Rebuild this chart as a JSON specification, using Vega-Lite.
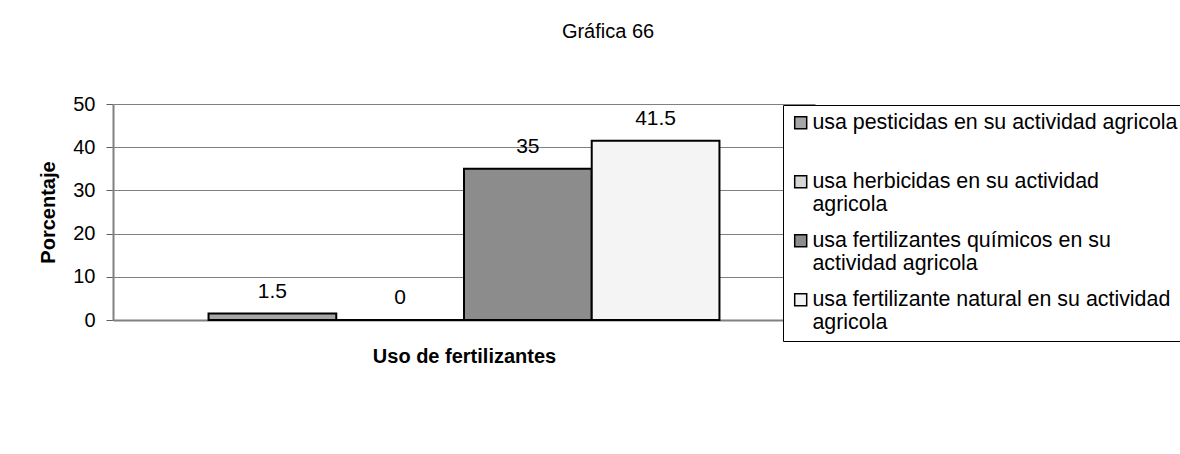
{
  "$schema": "https://vega.github.io/schema/vega-lite/v6.json",
  "width": 702,
  "height": 216,
  "autosize": {"type": "none"},
  "padding": {"left": 113, "top": 104, "right": 365, "bottom": 134},
  "background": "white",
  "title": {
    "text": "Gráfica 66",
    "font": "Liberation Sans",
    "fontSize": 20,
    "fontWeight": "normal",
    "color": "black",
    "anchor": "middle",
    "dx": 144,
    "offset": 52
  },
  "data": {
    "values": [
      {"grupo": "Uso de fertilizantes", "serie": "usa pesticidas en su actividad agricola", "porcentaje": 1.5},
      {"grupo": "Uso de fertilizantes", "serie": "usa herbicidas en su actividad agricola", "porcentaje": 0},
      {"grupo": "Uso de fertilizantes", "serie": "usa fertilizantes químicos en su actividad agricola", "porcentaje": 35},
      {"grupo": "Uso de fertilizantes", "serie": "usa fertilizante natural en su actividad agricola", "porcentaje": 41.5}
    ]
  },
  "encoding": {
    "x": {
      "field": "grupo",
      "type": "nominal",
      "scale": {"paddingInner": 0, "paddingOuter": 0.187},
      "axis": {
        "title": "Uso de fertilizantes",
        "labels": false,
        "ticks": false,
        "domainColor": "#808080",
        "domainWidth": 2,
        "titleFont": "Liberation Sans",
        "titleFontSize": 20,
        "titleFontWeight": "bold",
        "titleColor": "black",
        "titlePadding": 26
      }
    },
    "xOffset": {
      "field": "serie",
      "type": "nominal",
      "sort": null,
      "scale": {
        "domain": [
          "usa pesticidas en su actividad agricola",
          "usa herbicidas en su actividad agricola",
          "usa fertilizantes químicos en su actividad agricola",
          "usa fertilizante natural en su actividad agricola"
        ],
        "paddingInner": 0,
        "paddingOuter": 0
      }
    },
    "y": {
      "field": "porcentaje",
      "type": "quantitative",
      "scale": {"domain": [0, 50], "nice": false},
      "axis": {
        "title": "Porcentaje",
        "values": [0, 10, 20, 30, 40, 50],
        "grid": true,
        "gridColor": "#808080",
        "gridWidth": 1,
        "domainColor": "#808080",
        "domainWidth": 2,
        "tickColor": "#606060",
        "tickSize": 7,
        "tickWidth": 1,
        "labelFont": "Liberation Sans",
        "labelFontSize": 20,
        "labelColor": "black",
        "labelPadding": 11,
        "titleFont": "Liberation Sans",
        "titleFontSize": 20,
        "titleFontWeight": "bold",
        "titleColor": "black",
        "titlePadding": 14
      }
    }
  },
  "layer": [
    {
      "mark": {"type": "bar", "stroke": "black", "strokeWidth": 2},
      "encoding": {
        "color": {
          "field": "serie",
          "type": "nominal",
          "scale": {
            "domain": [
              "usa pesticidas en su actividad agricola",
              "usa herbicidas en su actividad agricola",
              "usa fertilizantes químicos en su actividad agricola",
              "usa fertilizante natural en su actividad agricola"
            ],
            "range": ["#a6a6a6", "#d6d6d6", "#8c8c8c", "#f4f4f4"]
          },
          "legend": {
            "title": null,
            "orient": "none",
            "legendX": 670,
            "legendY": 1,
            "strokeColor": "black",
            "fillColor": "white",
            "padding": 7,
            "symbolType": "square",
            "symbolSize": 144,
            "symbolStrokeColor": "black",
            "symbolStrokeWidth": 1.5,
            "symbolOpacity": 1,
            "labelFont": "Liberation Sans",
            "labelFontSize": 21.4,
            "labelColor": "black",
            "labelLimit": 600,
            "labelOffset": 1,
            "rowPadding": 13,
            "labelExpr": "datum.label == 'usa pesticidas en su actividad agricola' ? ['usa pesticidas en su actividad agricola', ' '] : datum.label == 'usa herbicidas en su actividad agricola' ? ['usa herbicidas en su actividad', 'agricola'] : datum.label == 'usa fertilizantes químicos en su actividad agricola' ? ['usa fertilizantes químicos en su', 'actividad agricola'] : ['usa fertilizante natural en su actividad', 'agricola']",
            "encode": {
              "labels": {"update": {"lineHeight": {"value": 23}}}
            }
          }
        }
      }
    },
    {
      "mark": {
        "type": "text",
        "font": "Liberation Sans",
        "fontSize": 21,
        "color": "black",
        "baseline": "middle",
        "dy": -22
      },
      "encoding": {
        "text": {"field": "porcentaje", "type": "quantitative"}
      }
    }
  ],
  "config": {
    "view": {"stroke": null}
  }
}
